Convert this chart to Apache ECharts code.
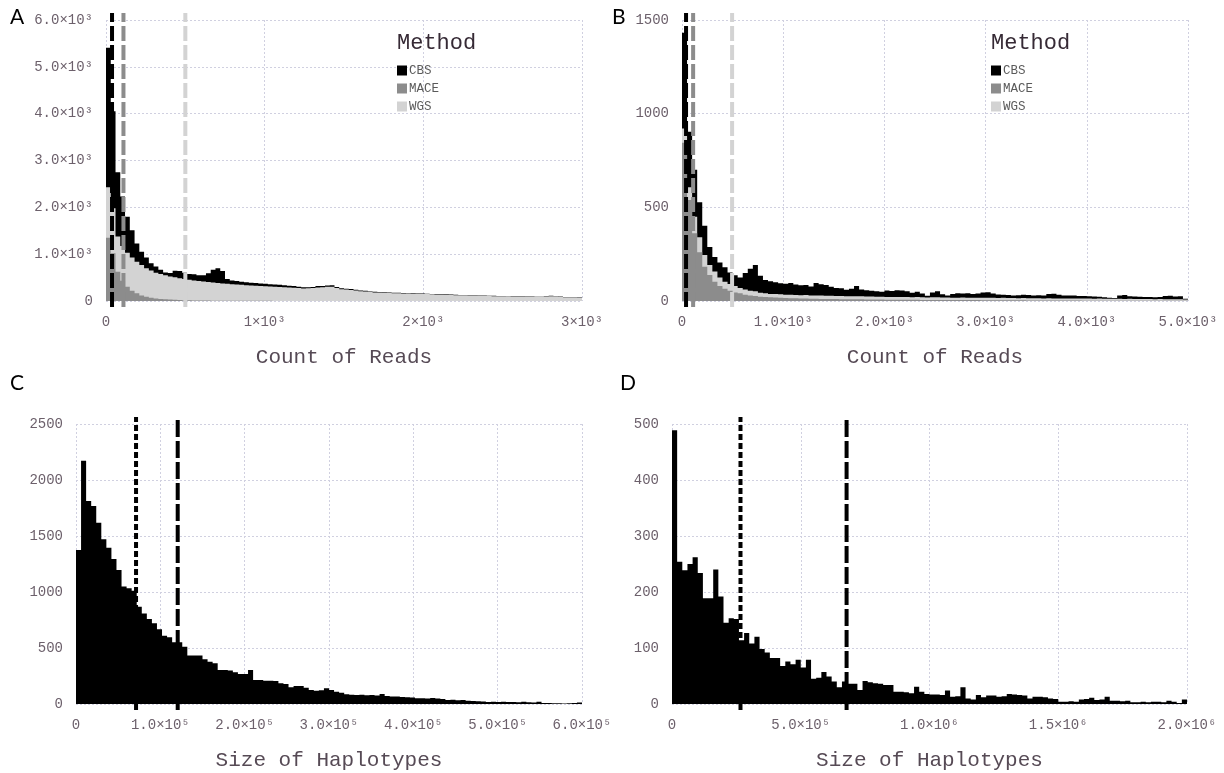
<!DOCTYPE html>
<html>
<head>
<meta charset="utf-8">
<title>Reads and haplotypes</title>
<script src="https://cdn.jsdelivr.net/npm/echarts@6.0.0/dist/echarts.min.js"></script>
<style>
  html, body { margin: 0; padding: 0; background: #fff; }
  #chart { width: 1224px; height: 773px; }
</style>
</head>
<body>
<div id="chart"></div>
<script>
// ---- data ----
// A: count of reads, bins of 30, top edge of each colour band (stacked histogram)
const aBinW = 30;
const aTopCBS = [
  5410, 4050, 2750, 2230, 1800, 1510, 1230, 1050, 930, 805,
  735, 665, 610, 600, 648, 640, 605, 578, 572, 550,
  548, 595, 665, 700, 640, 470, 440, 425, 410, 400,
  390, 382, 375, 368, 360, 352, 345, 338, 328, 318,
  305, 292, 295, 300, 318, 322, 330, 334, 300, 270,
  262, 255, 240, 225, 218, 205, 195, 192, 188, 182,
  178, 176, 172, 168, 165, 162, 160, 156, 152, 150,
  148, 142, 138, 132, 130, 128, 124, 122, 120, 118,
  114, 110, 107, 106, 104, 101, 100, 100, 98, 96,
  93, 92, 100, 112, 108, 95, 88, 86, 84, 82
];
const aTopWGS = [
  2430, 1980, 1375, 1175, 1030, 930, 840, 770, 700, 650,
  605, 575, 550, 525, 505, 487, 470, 455, 440, 428,
  415, 405, 395, 385, 375, 368, 360, 352, 345, 338,
  332, 326, 320, 315, 310, 305, 300, 295, 290, 285,
  280, 268, 270, 275, 290, 296, 302, 305, 278, 250,
  243, 237, 223, 209, 203, 191, 182, 179, 176, 170,
  167, 165, 161, 158, 155, 152, 150, 147, 143, 141,
  139, 134, 130, 125, 123, 121, 117, 116, 114, 112,
  108, 104, 102, 101, 99, 96, 95, 95, 93, 91,
  88, 87, 94, 104, 100, 89, 82, 80, 78, 76
];
const aTopMACE = [
  1350, 1020, 625, 435, 305, 220, 165, 120, 90, 70,
  55, 45, 38, 30, 25, 21, 18, 15, 13, 11,
  10, 9, 8, 7, 6, 6, 5, 5, 4, 4,
  4, 3, 3, 3, 3, 2, 2, 2, 2, 2,
  2, 2, 2, 1, 2, 1, 1, 2, 1, 1,
  1, 1, 1, 1, 1, 1, 0, 1, 1, 0,
  1, 0, 1, 0, 0, 1, 0, 0, 1, 0,
  0, 1, 0, 0, 0, 1, 0, 0, 0, 0,
  0, 0, 1, 0, 0, 0, 0, 0, 0, 0,
  0, 0, 0, 0, 1, 0, 0, 0, 0, 0
];
const aMedians = { CBS: 38, MACE: 110, WGS: 500 };

// B: count of reads, bins of 50
const bBinW = 50;
const bTopCBS = [
  1432, 904, 700, 527, 402, 288, 235, 205, 180, 152,
  138, 125, 150, 172, 192, 135, 112, 105, 100, 95,
  92, 96, 88, 84, 86, 78, 96, 90, 86, 76,
  70, 68, 60, 66, 80, 62, 58, 55, 52, 50,
  56, 54, 58, 56, 52, 44, 50, 40, 28, 46,
  52, 36, 30, 38, 42, 40, 41, 38, 40, 46,
  47, 40, 35, 34, 32, 30, 31, 34, 32, 30,
  31, 30, 38, 39, 33, 30, 30, 29, 27, 27,
  25, 24, 23, 20, 18, 16, 30, 32, 26, 24,
  23, 22, 21, 20, 21, 27, 28, 24, 26, 12
];
const bTopWGS = [
  921, 607, 450, 340, 245, 192, 157, 125, 103, 91,
  80, 69, 62, 55, 52, 44, 41, 38, 37, 36,
  33, 34, 32, 31, 32, 30, 30, 29, 28, 28,
  27, 27, 26, 25, 26, 25, 24, 24, 23, 23,
  22, 22, 22, 21, 21, 20, 21, 20, 19, 20,
  20, 19, 19, 18, 18, 19, 18, 18, 17, 18,
  17, 17, 16, 17, 16, 16, 15, 16, 15, 15,
  15, 14, 15, 14, 14, 14, 13, 14, 13, 13,
  13, 12, 13, 12, 12, 12, 12, 11, 12, 11,
  11, 11, 11, 10, 11, 10, 10, 10, 10, 8
];
const bTopMACE = [
  845, 539, 361, 260, 183, 139, 103, 80, 66, 55,
  46, 41, 34, 30, 27, 23, 21, 20, 19, 18,
  16, 15, 15, 14, 13, 12, 12, 11, 11, 11,
  11, 10, 10, 9, 9, 9, 8, 8, 8, 8,
  7, 7, 7, 7, 7, 7, 7, 6, 6, 6,
  6, 6, 5, 5, 5, 5, 5, 5, 5, 4,
  4, 4, 4, 4, 4, 4, 4, 4, 3, 3,
  3, 3, 3, 3, 3, 3, 3, 3, 3, 2,
  2, 2, 2, 2, 2, 2, 2, 2, 2, 2,
  2, 2, 2, 2, 1, 1, 1, 1, 1, 1
];
const bMedians = { CBS: 40, MACE: 110, WGS: 495 };

// C: size of haplotypes, bins of 6000
const cBinW = 6000;
const cCounts = [
  1375, 2172, 1812, 1768, 1619, 1470, 1396, 1295, 1196, 1048,
  1033, 1012, 869, 809, 759, 720, 667, 610, 595, 551,
  551, 512, 432, 432, 432, 399, 378, 363, 304, 304,
  298, 283, 268, 268, 304, 214, 214, 208, 208, 205,
  185, 179, 149, 161, 161, 146, 125, 119, 122, 140,
  125, 110, 101, 88, 83, 80, 82, 78, 80, 76,
  89, 72, 68, 66, 62, 60, 58, 51, 52, 50,
  54, 49, 45, 36, 38, 34, 35, 30, 26, 24,
  22, 18, 19, 18, 20, 17, 18, 16, 19, 15,
  14, 20, 8, 9, 6, 7, 5, 6, 8, 14
];
const cLines = [71200, 120600];

// D: size of haplotypes, bins of 20000
const dBinW = 20000;
const dCounts = [
  489, 254, 239, 250, 262, 234, 189, 189, 240, 192,
  145, 153, 152, 114, 127, 108, 120, 98, 92, 82,
  82, 68, 76, 71, 79, 65, 79, 45, 47, 57,
  49, 40, 30, 40, 36, 36, 25, 41, 39, 37,
  36, 34, 34, 22, 22, 21, 19, 31, 22, 18,
  17, 17, 16, 24, 13, 14, 30, 10, 8, 16,
  12, 15, 15, 13, 14, 18, 17, 16, 15, 10,
  13, 13, 12, 10, 9, 4, 4, 5, 4, 8,
  9, 11, 7, 8, 13, 6, 6, 5, 6, 3,
  3, 4, 3, 4, 4, 3, 6, 4, 2, 8
];
const dLines = [266000, 678000];

// tick labels
const aXTicks = ['0', '1×10³', '2×10³', '3×10³'];
const aYTicks = ['0', '1.0×10³', '2.0×10³', '3.0×10³', '4.0×10³', '5.0×10³', '6.0×10³'];
const bXTicks = ['0', '1.0×10³', '2.0×10³', '3.0×10³', '4.0×10³', '5.0×10³'];
const bYTicks = ['0', '500', '1000', '1500'];
const cXTicks = ['0', '1.0×10⁵', '2.0×10⁵', '3.0×10⁵', '4.0×10⁵', '5.0×10⁵', '6.0×10⁵'];
const cYTicks = ['0', '500', '1000', '1500', '2000', '2500'];
const dXTicks = ['0', '5.0×10⁵', '1.0×10⁶', '1.5×10⁶', '2.0×10⁶'];
const dYTicks = ['0', '100', '200', '300', '400', '500'];

const methods = ['CBS', 'MACE', 'WGS'];
const colors = { CBS: '#000000', MACE: '#8c8c8c', WGS: '#d3d3d3' };

// ---- layout ----
const mono = '"Liberation Mono", "DejaVu Sans Mono", monospace';
const panels = [
  { left: 106, top: 20, width: 476, height: 281, xMax: 3000, xInt: 1000, yMax: 6000, yInt: 1000, xt: aXTicks, yt: aYTicks, name: 'Count of Reads' },
  { left: 682, top: 20, width: 506, height: 281, xMax: 5000, xInt: 1000, yMax: 1500, yInt: 500, xt: bXTicks, yt: bYTicks, name: 'Count of Reads' },
  { left: 76, top: 424, width: 506, height: 280, xMax: 600000, xInt: 100000, yMax: 2500, yInt: 500, xt: cXTicks, yt: cYTicks, name: 'Size of Haplotypes' },
  { left: 672, top: 424, width: 515, height: 280, xMax: 2000000, xInt: 500000, yMax: 500, yInt: 100, xt: dXTicks, yt: dYTicks, name: 'Size of Haplotypes' }
];

let grids = [], xAxes = [], yAxes = [];
const gridLine = { show: true, lineStyle: { color: '#D0D0E0', width: 1, type: [2, 2] } };
panels.forEach(p => {
  grids.push({ left: p.left, top: p.top, width: p.width, height: p.height });
  xAxes.push({
    type: 'value', gridIndex: grids.length - 1, min: 0, max: p.xMax, interval: p.xInt,
    axisLine: { show: false }, axisTick: { show: false }, splitLine: gridLine,
    axisLabel: {
      margin: 14, color: '#6C606B', fontFamily: mono, fontSize: 14,
      showMinLabel: true, showMaxLabel: true,
      formatter: v => p.xt[Math.round(v / p.xInt)]
    },
    name: p.name, nameLocation: 'middle', nameGap: 46,
    nameTextStyle: { color: '#564A55', fontFamily: mono, fontSize: 21 }
  });
  yAxes.push({
    type: 'value', gridIndex: grids.length - 1, min: 0, max: p.yMax, interval: p.yInt,
    axisLine: { show: false }, axisTick: { show: false }, splitLine: gridLine,
    axisLabel: {
      margin: 13, color: '#6C606B', fontFamily: mono, fontSize: 14,
      formatter: v => p.yt[Math.round(v / p.yInt)]
    }
  });
});
// overlay grids for the vertical dashed lines (they run a bit past the panel)
panels.forEach(p => {
  grids.push({ left: p.left, top: p.top - 7, width: p.width, height: p.height + 13 });
  xAxes.push({ type: 'value', gridIndex: grids.length - 1, min: 0, max: p.xMax, show: false });
  yAxes.push({ type: 'value', gridIndex: grids.length - 1, min: 0, max: 1, show: false });
});

// one step polygon per histogram layer, so the bins join without seams
function histSeries(name, color, top, binW, gi) {
  return {
    type: 'custom', name: name, xAxisIndex: gi, yAxisIndex: gi,
    itemStyle: { color: color }, silent: true, clip: true,
    data: top.map((v, i) => [i * binW, v]),
    renderItem: (params, api) => {
      if (params.dataIndex !== 0) return null;
      let pts = [api.coord([0, 0])];
      top.forEach((v, i) => {
        pts.push(api.coord([i * binW, v]));
        pts.push(api.coord([(i + 1) * binW, v]));
      });
      pts.push(api.coord([top.length * binW, 0]));
      return { type: 'polygon', shape: { points: pts }, style: { fill: color } };
    }
  };
}

function vline(value, color, dash, gi) {
  return {
    type: 'line', xAxisIndex: gi, yAxisIndex: gi, silent: true,
    data: [[value, 0], [value, 1]], symbol: 'none',
    lineStyle: { color: color, width: 4, type: dash }
  };
}

let series = [];
// back to front: CBS (top band), WGS, MACE
series.push(histSeries('CBS', colors.CBS, aTopCBS, aBinW, 0));
series.push(histSeries('WGS', colors.WGS, aTopWGS, aBinW, 0));
series.push(histSeries('MACE', colors.MACE, aTopMACE, aBinW, 0));
series.push(histSeries('CBS', colors.CBS, bTopCBS, bBinW, 1));
series.push(histSeries('WGS', colors.WGS, bTopWGS, bBinW, 1));
series.push(histSeries('MACE', colors.MACE, bTopMACE, bBinW, 1));
series.push(histSeries('C', '#000', cCounts, cBinW, 2));
series.push(histSeries('D', '#000', dCounts, dBinW, 3));

methods.forEach(m => {
  series.push(vline(aMedians[m], colors[m], [15, 4], 4));
  series.push(vline(bMedians[m], colors[m], [15, 4], 5));
});
series.push(vline(cLines[0], '#000', [6, 3], 6));
series.push(vline(cLines[1], '#000', [17, 4], 6));
series.push(vline(dLines[0], '#000', [6, 3], 7));
series.push(vline(dLines[1], '#000', [17, 4], 7));

const letterStyle = { fontFamily: 'Lato, "Open Sans", sans-serif', fontSize: 21, fontWeight: 'normal', color: '#000' };
const keyTitle = { fontFamily: mono, fontSize: 22, fontWeight: 'normal', color: '#362A35' };

function legendAt(left) {
  return {
    data: methods, orient: 'vertical', left: left, top: 64, padding: 0,
    itemWidth: 10, itemHeight: 10, itemGap: 5, icon: 'rect', selectedMode: false,
    textStyle: { fontFamily: mono, fontSize: 12.5, color: '#5a5a5a', padding: [0, 0, 0, -3] }
  };
}

let option = {
  animation: false,
  backgroundColor: '#fff',
  textStyle: { fontFamily: mono },
  title: [
    { text: 'A', left: 10, top: 7, padding: 0, textStyle: letterStyle },
    { text: 'B', left: 612, top: 7, padding: 0, textStyle: letterStyle },
    { text: 'C', left: 10, top: 373, padding: 0, textStyle: letterStyle },
    { text: 'D', left: 620, top: 373, padding: 0, textStyle: letterStyle },
    { text: 'Method', left: 397, top: 32, padding: 0, textStyle: keyTitle },
    { text: 'Method', left: 991, top: 32, padding: 0, textStyle: keyTitle }
  ],
  legend: [legendAt(397), legendAt(991)],
  grid: grids,
  xAxis: xAxes,
  yAxis: yAxes,
  series: series
};

let myChart = echarts.init(document.getElementById('chart'), null, { renderer: 'canvas' });
myChart.setOption(option);
</script>
</body>
</html>
